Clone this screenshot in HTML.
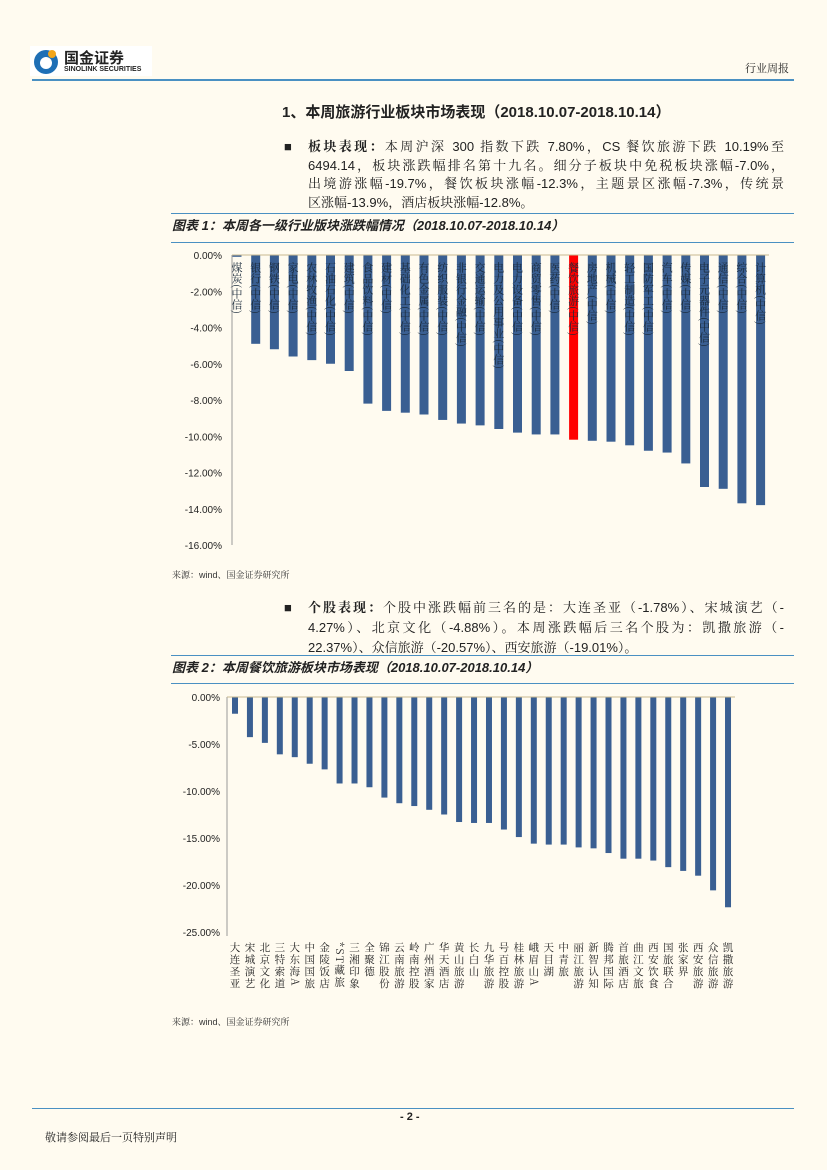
<!DOCTYPE html>
<html><head><meta charset="utf-8">
<style>
body{margin:0;background:#fffbf0;}
#page{position:relative;width:827px;height:1170px;background:#fffbf0;font-family:"Liberation Sans","Noto Serif CJK SC",serif;color:#222;overflow:hidden}
.abs{position:absolute}
.p{font-size:13px;line-height:18.5px}
.ln{text-align:justify;text-align-last:justify;white-space:nowrap;height:18.5px}
.last{text-align-last:left}
.ft{font-weight:bold;font-style:italic;font-size:13px;font-family:"Liberation Sans","Noto Sans CJK SC",sans-serif}
.hl{position:absolute;left:171px;width:623px;height:1px;background:#4a90c2}
.src{font-size:9px;color:#333}
</style></head><body>
<div id="page">
  <div class="abs" style="left:30px;top:46px;width:122px;height:30px;background:#fff">
    <svg width="30" height="30" style="position:absolute;left:2px;top:0"><circle cx="14" cy="16" r="12" fill="#1e6fb5"/><circle cx="14" cy="17" r="6" fill="#fff"/><circle cx="20" cy="8" r="4" fill="#f2a51a"/></svg>
    <div class="abs" style="left:34px;top:1px;font-size:15px;font-weight:bold;font-family:'Noto Sans CJK SC',sans-serif;color:#222">国金证券</div>
    <div class="abs" style="left:34px;top:20px;font-size:7px;font-weight:bold;color:#222">SINOLINK SECURITIES</div>
  </div>
  <div class="abs" style="left:745px;top:60px;font-size:11px">行业周报</div>
  <div class="abs" style="left:32px;top:79px;width:762px;height:2px;background:#4a90c2"></div>

  <div class="abs" style="left:282px;top:101px;font-size:15px;font-weight:bold;font-family:'Liberation Sans','Noto Sans CJK SC',sans-serif">1、本周旅游行业板块市场表现（2018.10.07-2018.10.14）</div>

  <div class="abs p" style="left:284px;top:138px;width:500px">
    <span style="position:absolute;left:0;top:0">■</span>
    <div style="margin-left:24px;width:476px">
      <div class="ln"><b>板块表现：</b>本周沪深 300 指数下跌 7.80%，CS 餐饮旅游下跌 10.19%至</div>
      <div class="ln">6494.14，板块涨跌幅排名第十九名。细分子板块中免税板块涨幅-7.0%，</div>
      <div class="ln">出境游涨幅-19.7%，餐饮板块涨幅-12.3%，主题景区涨幅-7.3%，传统景</div>
      <div class="ln last">区涨幅-13.9%，酒店板块涨幅-12.8%。</div>
    </div>
  </div>

  <div class="hl" style="top:213px"></div>
  <div class="abs ft" style="left:172px;top:215px">图表 1：本周各一级行业版块涨跌幅情况（2018.10.07-2018.10.14）</div>
  <div class="hl" style="top:242px"></div>

  <svg class="abs" style="left:0;top:0" width="827" height="1170" id="svg"></svg>

  <div class="abs src" style="left:172px;top:568px">来源：wind、国金证券研究所</div>

  <div class="abs p" style="left:284px;top:598px;width:500px;line-height:20px">
    <span style="position:absolute;left:0;top:0">■</span>
    <div style="margin-left:24px;width:476px">
      <div class="ln" style="height:20px"><b>个股表现：</b>个股中涨跌幅前三名的是：大连圣亚（-1.78%）、宋城演艺（-</div>
      <div class="ln" style="height:20px">4.27%）、北京文化（-4.88%）。本周涨跌幅后三名个股为：凯撒旅游（-</div>
      <div class="ln last" style="height:20px">22.37%）、众信旅游（-20.57%）、西安旅游（-19.01%）。</div>
    </div>
  </div>

  <div class="hl" style="top:655px"></div>
  <div class="abs ft" style="left:172px;top:657px">图表 2：本周餐饮旅游板块市场表现（2018.10.07-2018.10.14）</div>
  <div class="hl" style="top:683px"></div>

  <div class="abs src" style="left:172px;top:1015px">来源：wind、国金证券研究所</div>

  <div class="abs" style="left:32px;top:1108px;width:762px;height:1px;background:#4a90c2"></div>
  <div class="abs" style="left:400px;top:1111px;font-size:11px;font-weight:bold">- 2 -</div>
  <div class="abs" style="left:45px;top:1129px;font-size:11px">敬请参阅最后一页特别声明</div>
</div>
<script>
const cats1=["煤炭(中信)","银行(中信)","钢铁(中信)","家电(中信)","农林牧渔(中信)","石油石化(中信)","建筑(中信)","食品饮料(中信)","建材(中信)","基础化工(中信)","有色金属(中信)","纺织服装(中信)","非银行金融(中信)","交通运输(中信)","电力及公用事业(中信)","电力设备(中信)","商贸零售(中信)","医药(中信)","餐饮旅游(中信)","房地产(中信)","机械(中信)","轻工制造(中信)","国防军工(中信)","汽车(中信)","传媒(中信)","电子元器件(中信)","通信(中信)","综合(中信)","计算机(中信)"];
const vals1=[-0.1,-4.9,-5.2,-5.6,-5.8,-6.0,-6.4,-8.2,-8.6,-8.7,-8.8,-9.1,-9.3,-9.4,-9.6,-9.8,-9.9,-9.9,-10.19,-10.25,-10.3,-10.5,-10.8,-10.9,-11.5,-12.8,-12.9,-13.7,-13.8];
const ticks1=[0,-2,-4,-6,-8,-10,-12,-14,-16];
const cats2=["大连圣亚","宋城演艺","北京文化","三特索道","大东海A","中国国旅","金陵饭店","*ST藏旅","三湘印象","全聚德","锦江股份","云南旅游","岭南控股","广州酒家","华天酒店","黄山旅游","长白山","九华旅游","号百控股","桂林旅游","峨眉山A","天目湖","中青旅","丽江旅游","新智认知","腾邦国际","首旅酒店","曲江文旅","西安饮食","国旅联合","张家界","西安旅游","众信旅游","凯撒旅游"];
const vals2=[-1.78,-4.27,-4.88,-6.1,-6.4,-7.1,-7.7,-9.2,-9.2,-9.6,-10.7,-11.3,-11.6,-12.0,-12.5,-13.3,-13.4,-13.4,-14.1,-14.9,-15.6,-15.7,-15.7,-16.0,-16.1,-16.6,-17.2,-17.2,-17.4,-18.1,-18.5,-19.01,-20.57,-22.37];
const ticks2=[0,-5,-10,-15,-20,-25];

const svg=document.getElementById('svg');
const NS='http://www.w3.org/2000/svg';
function mk(tag,attrs,parent){const e=document.createElementNS(NS,tag);for(const k in attrs)e.setAttribute(k,attrs[k]);(parent||svg).appendChild(e);return e;}

// Chart 1
const g1=mk('g',{});


const y1=v=>255+(v/-16)*290;
const x1=i=>237+i*18.7;
mk('line',{x1:232,y1:255,x2:232,y2:545,stroke:'#999'},g1);
ticks1.forEach(t=>{
  const tx=mk('text',{x:222,y:y1(t)+4,'text-anchor':'end','font-size':10,fill:'#222','font-family':'Liberation Sans,sans-serif'},g1);
  tx.textContent=t.toFixed(2)+'%';
  
  
});
vals1.forEach((v,i)=>{
  const r=mk('rect',{x:x1(i)-4.5,y:255,width:9,height:y1(v)-255,fill:i===18?'#ff0000':'#3a5f92'},g1);
  
  
});
mk('line',{x1:232,y1:255,x2:769,y2:255,stroke:'#c8b890'},g1);
cats1.forEach((c,i)=>{
  const t=mk('text',{x:x1(i),y:262,'writing-mode':'tb','font-size':11,fill:'#1a2a3a','font-family':'Noto Serif CJK SC,serif'},g1);
  t.textContent=c;
  
  
});

// Chart 2
const g2=mk('g',{});


const y2=v=>697+(v/-25)*235;
const x2=i=>235+i*14.94;
mk('line',{x1:227,y1:697,x2:227,y2:936,stroke:'#999'},g2);
ticks2.forEach(t=>{
  const tx=mk('text',{x:220,y:y2(t)+4,'text-anchor':'end','font-size':10,fill:'#222','font-family':'Liberation Sans,sans-serif'},g2);
  tx.textContent=t.toFixed(2)+'%';
  
  
});
vals2.forEach((v,i)=>{
  const r=mk('rect',{x:x2(i)-3,y:697,width:6,height:y2(v)-697,fill:'#3a5f92'},g2);
  
  
});
mk('line',{x1:227,y1:697,x2:735,y2:697,stroke:'#c8b890'},g2);
cats2.forEach((c,i)=>{
  const t=mk('text',{x:x2(i),y:942,'writing-mode':'tb','font-size':10.5,fill:'#222','font-family':'Noto Serif CJK SC,serif','letter-spacing':'1.5'},g2);
  t.textContent=c;
  
  
});
</script>
</body></html>
